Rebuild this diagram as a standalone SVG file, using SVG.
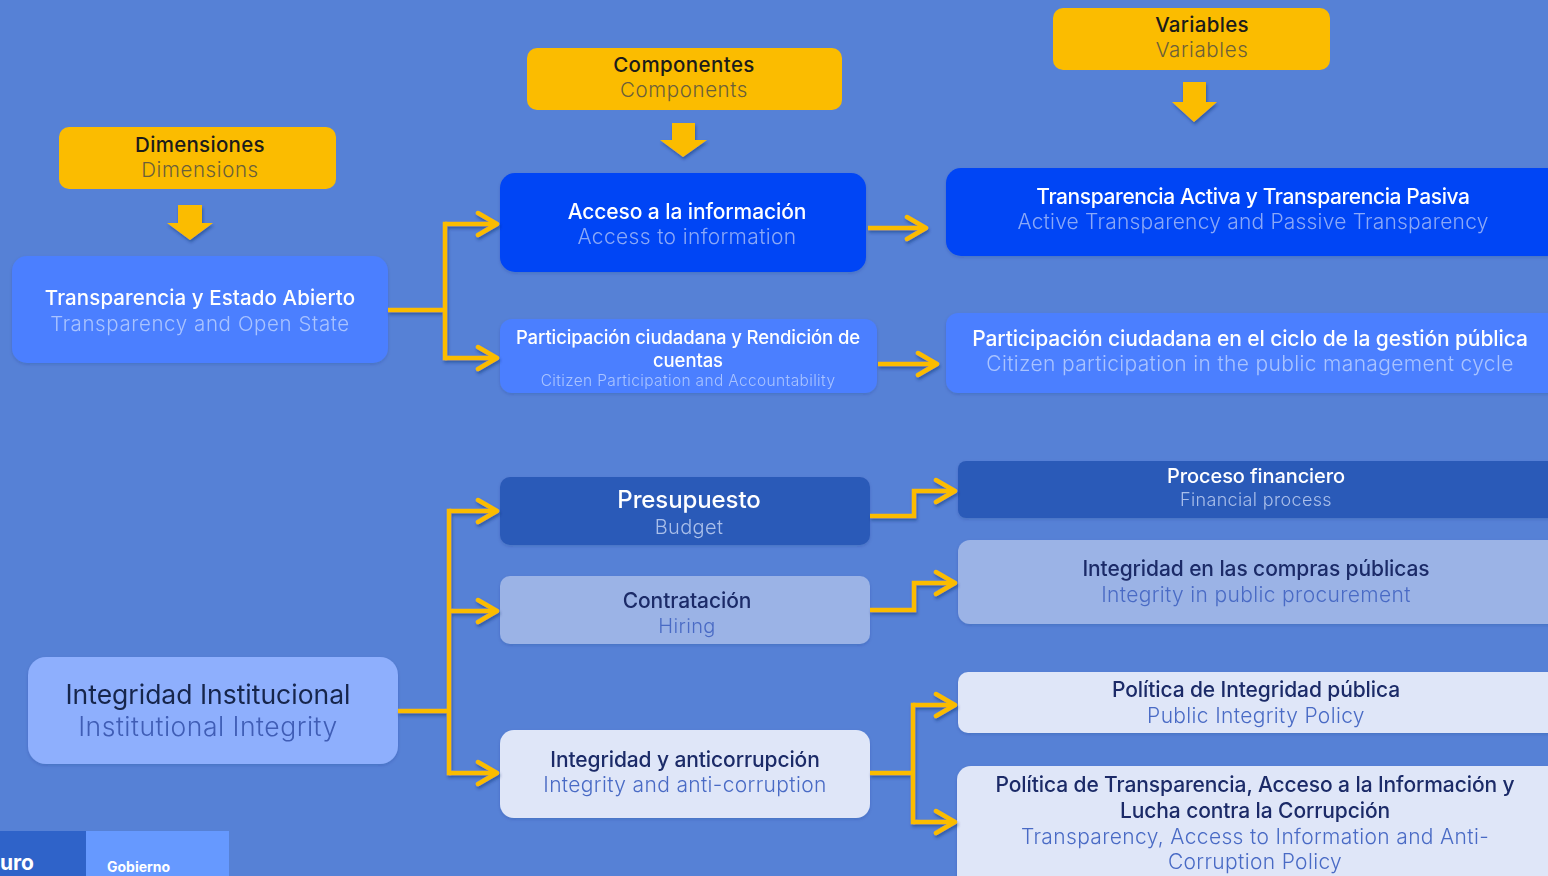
<svg xmlns="http://www.w3.org/2000/svg" width="1548" height="876" viewBox="0 0 1548 876">
<style>
text{font-family:Inter,"Liberation Sans",sans-serif;text-anchor:middle}
.t{font-weight:500;letter-spacing:-0.1px}
.s{font-weight:300;letter-spacing:0.35px}
.hd{fill:#1b1b1b}
.hs{fill:#6b5f3a}
.w{fill:#ffffff}
.dk{fill:#1b2c68}
.con{fill:none;stroke:#fbbc00;stroke-width:4.5;stroke-linejoin:miter}
.yl{fill:#fbbc00}
</style>
<defs>
<filter id="sh" x="-20%" y="-20%" width="140%" height="160%">
<feDropShadow dx="1" dy="2.5" stdDeviation="1.6" flood-color="#102a6a" flood-opacity="0.45"/>
</filter>
<filter id="bs" x="-5%" y="-10%" width="110%" height="130%">
<feDropShadow dx="0" dy="1.5" stdDeviation="1.5" flood-color="#102a6a" flood-opacity="0.18"/>
</filter>
<marker id="ah" markerUnits="userSpaceOnUse" viewBox="0 0 26 28" refX="22" refY="14" markerWidth="26" markerHeight="28" orient="auto">
<path d="M3,3 L22,14 L3,25" fill="none" stroke="#fbbc00" stroke-width="4.5" stroke-linecap="round" stroke-linejoin="round"/>
</marker>
</defs>
<rect width="1548" height="876" fill="#5681d6"/>

<g id="hdr-dimensiones">
<rect x="59" y="127" width="277" height="62" rx="10" class="yl"/>
<text x="200" y="152" font-size="20.5" class="t hd" style="letter-spacing:0.3px">Dimensiones</text>
<text x="200" y="177" font-size="20.5" class="s hs" style="letter-spacing:0.6px">Dimensions</text>
</g>
<g id="hdr-componentes">
<rect x="527" y="48" width="315" height="62" rx="10" class="yl"/>
<text x="684" y="72" font-size="20.5" class="t hd" style="letter-spacing:0.4px">Componentes</text>
<text x="684" y="97" font-size="20.5" class="s hs" style="letter-spacing:0.6px">Components</text>
</g>
<g id="hdr-variables">
<rect x="1053" y="8" width="277" height="62" rx="10" class="yl"/>
<text x="1202" y="32" font-size="20.5" class="t hd" style="letter-spacing:0.3px">Variables</text>
<text x="1202" y="57" font-size="20.5" class="s hs" style="letter-spacing:0.6px">Variables</text>
</g>

<g id="down-arrows" filter="url(#sh)">
<polygon class="yl" points="178,205 202,205 202,223 213,223 190,240 167,223 178,223"/>
<polygon class="yl" points="672,123 695,123 695,140 707,140 683,157 660,140 672,140"/>
<polygon class="yl" points="1183,82 1206,82 1206,102 1217,102 1194,122 1172,102 1183,102"/>
</g>

<g id="n-transparencia" filter="url(#bs)">
<rect x="12" y="256" width="376" height="107" rx="15" fill="#4b7fff"/>
<text x="200" y="305" font-size="20.5" class="t w" style="letter-spacing:0.1px">Transparencia y Estado Abierto</text>
<text x="200" y="331" font-size="20.5" class="s" fill="#a9c3ff" style="letter-spacing:0.6px">Transparency and Open State</text>
</g>
<g id="n-acceso" filter="url(#bs)">
<rect x="500" y="173" width="366" height="99" rx="15" fill="#0045f5"/>
<text x="687" y="219" font-size="21" class="t w">Acceso a la información</text>
<text x="687" y="244" font-size="21" class="s" fill="#8aa8f7">Access to information</text>
</g>
<g id="n-participacion" filter="url(#bs)">
<rect x="500" y="319" width="377" height="74" rx="12" fill="#4b7fff"/>
<text x="688" y="344" font-size="18.5" class="t w">Participación ciudadana y Rendición de</text>
<text x="688" y="367" font-size="18.5" class="t w">cuentas</text>
<text x="688" y="386" font-size="15.5" class="s" fill="#a9c3ff">Citizen Participation and Accountability</text>
</g>
<g id="n-activa" filter="url(#bs)">
<rect x="946" y="168" width="620" height="88" rx="15" fill="#0045f5"/>
<text x="1253" y="204" font-size="21" class="t w" style="letter-spacing:-0.4px">Transparencia Activa y Transparencia Pasiva</text>
<text x="1253" y="229" font-size="21" class="s" fill="#8aa8f7" style="letter-spacing:0.2px">Active Transparency and Passive Transparency</text>
</g>
<g id="n-ciclo" filter="url(#bs)">
<rect x="946" y="313" width="620" height="80" rx="12" fill="#4b7fff"/>
<text x="1250" y="346" font-size="21" class="t w">Participación ciudadana en el ciclo de la gestión pública</text>
<text x="1250" y="371" font-size="21" class="s" fill="#a9c3ff">Citizen participation in the public management cycle</text>
</g>

<g id="n-integridad-inst" filter="url(#bs)">
<rect x="28" y="657" width="370" height="107" rx="18" fill="#8eaffd"/>
<text x="208" y="704" font-size="26.5" fill="#17254c" style="font-weight:400;letter-spacing:0px">Integridad Institucional</text>
<text x="208" y="736" font-size="26.5" class="s" fill="#3f5db5" style="letter-spacing:0.5px">Institutional Integrity</text>
</g>
<g id="n-presupuesto" filter="url(#bs)">
<rect x="500" y="477" width="370" height="68" rx="10" fill="#2c5ab8"/>
<text x="689" y="508" font-size="24" class="t w">Presupuesto</text>
<text x="689" y="534" font-size="20" class="s" fill="#a9bfea">Budget</text>
</g>
<g id="n-contratacion" filter="url(#bs)">
<rect x="500" y="576" width="370" height="68" rx="10" fill="#9bb3e6"/>
<text x="687" y="608" font-size="21" class="t dk">Contratación</text>
<text x="687" y="633" font-size="20" class="s" fill="#4a6bc5">Hiring</text>
</g>
<g id="n-anticorrupcion" filter="url(#bs)">
<rect x="500" y="730" width="370" height="88" rx="14" fill="#dfe6f8"/>
<text x="685" y="767" font-size="21" class="t dk">Integridad y anticorrupción</text>
<text x="685" y="792" font-size="21" class="s" fill="#4a6bc5">Integrity and anti-corruption</text>
</g>
<g id="n-proceso" filter="url(#bs)">
<rect x="958" y="461" width="610" height="57" rx="8" fill="#2c5ab8"/>
<text x="1256" y="483" font-size="20" class="t w">Proceso financiero</text>
<text x="1256" y="506" font-size="18" class="s" fill="#a9bfea">Financial process</text>
</g>
<g id="n-compras" filter="url(#bs)">
<rect x="958" y="540" width="610" height="84" rx="12" fill="#9bb3e6"/>
<text x="1256" y="576" font-size="21" class="t dk">Integridad en las compras públicas</text>
<text x="1256" y="602" font-size="21" class="s" fill="#4a6bc5">Integrity in public procurement</text>
</g>
<g id="n-politica-integridad" filter="url(#bs)">
<rect x="958" y="672" width="610" height="61" rx="10" fill="#dfe6f8"/>
<text x="1256" y="697" font-size="21" class="t dk">Política de Integridad pública</text>
<text x="1256" y="723" font-size="21" class="s" fill="#4a6bc5">Public Integrity Policy</text>
</g>
<g id="n-politica-transparencia" filter="url(#bs)">
<rect x="957" y="766" width="610" height="130" rx="14" fill="#dfe6f8"/>
<text x="1255" y="792" font-size="21" class="t dk">Política de Transparencia, Acceso a la Información y</text>
<text x="1255" y="818" font-size="21" class="t dk">Lucha contra la Corrupción</text>
<text x="1255" y="844" font-size="21" class="s" fill="#4a6bc5">Transparency, Access to Information and Anti-</text>
<text x="1255" y="869" font-size="21" class="s" fill="#4a6bc5">Corruption Policy</text>
</g>

<g id="connectors" filter="url(#sh)">
<path class="con" d="M388,310 H445"/>
<path class="con" d="M445,224 V358" stroke-linecap="square"/>
<path class="con" d="M445,224 H497" marker-end="url(#ah)"/>
<path class="con" d="M445,358 H497" marker-end="url(#ah)"/>
<path class="con" d="M868,228 H926" marker-end="url(#ah)"/>
<path class="con" d="M878,364 H937" marker-end="url(#ah)"/>
<path class="con" d="M398,711 H449"/>
<path class="con" d="M449,511 V773" stroke-linecap="square"/>
<path class="con" d="M449,511 H497" marker-end="url(#ah)"/>
<path class="con" d="M449,611 H497" marker-end="url(#ah)"/>
<path class="con" d="M449,773 H497" marker-end="url(#ah)"/>
<path class="con" d="M870,516 H914 V491 H955" marker-end="url(#ah)"/>
<path class="con" d="M870,610 H914 V583 H955" marker-end="url(#ah)"/>
<path class="con" d="M870,773 H913"/>
<path class="con" d="M913,705 V822" stroke-linecap="square"/>
<path class="con" d="M913,705 H955" marker-end="url(#ah)"/>
<path class="con" d="M913,822 H955" marker-end="url(#ah)"/>
</g>

<g id="footer">
<rect x="0" y="831" width="86" height="45" fill="#2f63c9"/>
<rect x="86" y="831" width="143" height="45" fill="#6699ff"/>
<text x="0" y="870" font-size="21" font-weight="700" fill="#ffffff" style="text-anchor:start">uro</text>
<text x="107" y="872" font-size="14" font-weight="700" fill="#ffffff" style="text-anchor:start">Gobierno</text>
</g>
</svg>
